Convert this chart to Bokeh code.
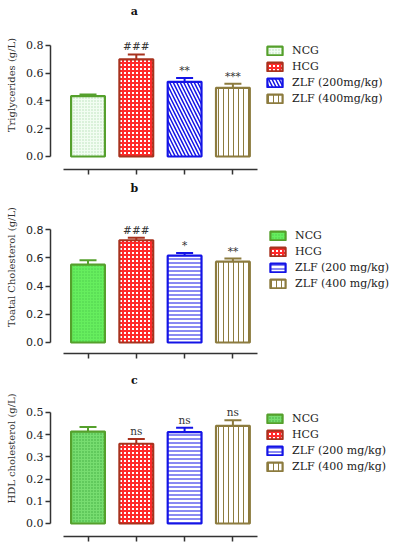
from bokeh.plotting import figure
from bokeh.models import FixedTicker, NumeralTickFormatter, Range1d, Legend, LegendItem, ColumnDataSource, Whisker, TeeHead
from bokeh.layouts import column
from bokeh.core.properties import value
from bokeh.embed import file_html
from bokeh.resources import INLINE

positions = [1, 2, 3, 4]
labels_a = ["NCG", "HCG", "ZLF (200mg/kg)", "ZLF (400mg/kg)"]
labels_bc = ["NCG", "HCG", "ZLF (200 mg/kg)", "ZLF (400 mg/kg)"]

tg_mean = [0.435, 0.700, 0.538, 0.495]
tg_err = [0.012, 0.035, 0.027, 0.029]
tg_sig = ["", "###", "**", "***"]

tc_mean = [0.551, 0.724, 0.615, 0.572]
tc_err = [0.031, 0.017, 0.019, 0.022]
tc_sig = ["", "###", "*", "**"]

hdl_mean = [0.414, 0.359, 0.411, 0.440]
hdl_err = [0.021, 0.021, 0.020, 0.025]
hdl_sig = ["", "ns", "ns", "ns"]

ticks_08 = [0.0, 0.2, 0.4, 0.6, 0.8]
ticks_05 = [0.0, 0.1, 0.2, 0.3, 0.4, 0.5]

SERIF = "DejaVu Serif"
AX = "#333333"

line_colors = ["#55a02c", "#a8321e", "#1414e6", "#8c7b3e"]

styles_a = [
    dict(fill_color="#f2fdf2", hatch_pattern="dot", hatch_color="#b5dfb5", hatch_scale=3, hatch_weight=1),
    dict(fill_color="white", hatch_pattern="cross", hatch_color="#ff2a2a", hatch_scale=4, hatch_weight=2),
    dict(fill_color="white", hatch_pattern="left_diagonal_line", hatch_color="#1414e6", hatch_scale=7, hatch_weight=1.5),
    dict(fill_color="white", hatch_pattern="vertical_line", hatch_color="#8c7b3e", hatch_scale=5, hatch_weight=1),
]
styles_b = [
    dict(fill_color="#66ee5e", hatch_pattern="dot", hatch_color="#4cc94c", hatch_scale=3, hatch_weight=1),
    dict(fill_color="white", hatch_pattern="cross", hatch_color="#ff2a2a", hatch_scale=4, hatch_weight=2),
    dict(fill_color="white", hatch_pattern="horizontal_line", hatch_color="#1414e6", hatch_scale=4, hatch_weight=1),
    dict(fill_color="white", hatch_pattern="vertical_line", hatch_color="#8c7b3e", hatch_scale=5, hatch_weight=1),
]
styles_c = [
    dict(fill_color="#77dd70", hatch_pattern="dot", hatch_color="#3faa3f", hatch_scale=3, hatch_weight=1),
    dict(fill_color="white", hatch_pattern="cross", hatch_color="#ff2a2a", hatch_scale=4, hatch_weight=2),
    dict(fill_color="white", hatch_pattern="horizontal_line", hatch_color="#1414e6", hatch_scale=4, hatch_weight=1),
    dict(fill_color="white", hatch_pattern="vertical_line", hatch_color="#8c7b3e", hatch_scale=5, hatch_weight=1),
]


def panel(height, border_bottom, y0, y1, ticks, means, errs, sigs, labels, styles,
          ylabel, tick_font, title, title_y, leg_loc):
    p = figure(width=395, height=height, output_backend="svg", toolbar_location=None,
               x_range=Range1d(0.2236, 7.304), y_range=Range1d(y0, y1),
               min_border_left=50, min_border_right=3, min_border_top=0,
               min_border_bottom=border_bottom)
    p.outline_line_color = None
    p.grid.visible = False
    p.background_fill_color = "white"

    items = []
    for i in range(4):
        r = p.vbar(x=[positions[i]], top=[means[i]], bottom=0, width=0.7,
                   line_color=line_colors[i], line_width=2.2, **styles[i])
        items.append(LegendItem(label=labels[i], renderers=[r]))
        src = ColumnDataSource(dict(x=[positions[i]], lo=[means[i]], hi=[means[i] + errs[i]]))
        w = Whisker(base="x", lower="lo", upper="hi", source=src, dimension="height",
                    line_color=line_colors[i], line_width=2,
                    upper_head=TeeHead(size=17, line_color=line_colors[i], line_width=2),
                    lower_head=None)
        p.add_layout(w)

    tops = [m + e for m, e in zip(means, errs)]
    p.text(x=positions, y=tops, text=sigs, text_align="center", text_baseline="bottom",
           y_offset=-2, text_font=value(SERIF), text_font_size="10.5px", text_color="#333333")

    # panel title ("a", "b", "c") above the bars
    p.text(x=[1.96], y=[title_y], text=[title], text_align="center", text_baseline="middle",
           text_font=value(SERIF), text_font_size="11px", text_font_style="bold",
           text_color="#111111")

    leg = Legend(items=items, location=leg_loc, glyph_width=19, glyph_height=11,
                 label_height=11, spacing=3, padding=0, margin=0, label_standoff=8,
                 label_text_font=SERIF, label_text_font_size="11px", label_text_color="#222222",
                 border_line_alpha=0, background_fill_alpha=0)
    p.add_layout(leg)

    ya = p.yaxis[0]
    ya.ticker = FixedTicker(ticks=ticks)
    ya.formatter = NumeralTickFormatter(format="0.0")
    ya.bounds = (ticks[0], ticks[-1])
    ya.axis_label = ylabel
    ya.axis_label_text_font = SERIF
    ya.axis_label_text_font_size = "10px"
    ya.axis_label_text_font_style = "normal"
    ya.axis_label_text_color = "#333333"
    ya.axis_label_standoff = 6
    ya.major_label_text_font = tick_font
    ya.major_label_text_font_size = "11px"
    ya.major_label_text_color = "#222222"
    ya.major_label_standoff = 2
    ya.major_tick_out = 5
    ya.major_tick_in = 0
    ya.minor_tick_line_color = None
    ya.axis_line_width = 1.5
    ya.axis_line_color = AX
    ya.major_tick_line_width = 1.5
    ya.major_tick_line_color = AX

    xa = p.xaxis[0]
    xa.ticker = FixedTicker(ticks=positions)
    xa.bounds = (0.5, 4.5)
    xa.major_label_text_font_size = "1px"
    xa.major_label_text_alpha = 0
    xa.major_label_standoff = 0
    xa.major_tick_out = 5
    xa.major_tick_in = 0
    xa.minor_tick_line_color = None
    xa.axis_line_width = 1.5
    xa.axis_line_color = AX
    xa.major_tick_line_width = 1.5
    xa.major_tick_line_color = AX
    return p


pa = panel(180, 11, -0.0937, 1.124, ticks_08, tg_mean, tg_err, tg_sig, labels_a, styles_a,
           "Triglycerides (g/L)", SERIF, "a", 1.045, (215, 64))
pb = panel(180, 7, -0.0779, 1.147, ticks_08, tc_mean, tc_err, tc_sig, labels_bc, styles_b,
           "Toatal Cholesterol (g/L)", "DejaVu Sans", "b", 1.09, (218, 63))
pc = panel(190, 14, -0.0586, 0.734, ticks_05, hdl_mean, hdl_err, hdl_sig, labels_bc, styles_c,
           "HDL cholesterol (g/L)", SERIF, "c", 0.644, (215, 63))

layout = column(pa, pb, pc, spacing=0)
open("out.html", "w").write(file_html(layout, INLINE))
